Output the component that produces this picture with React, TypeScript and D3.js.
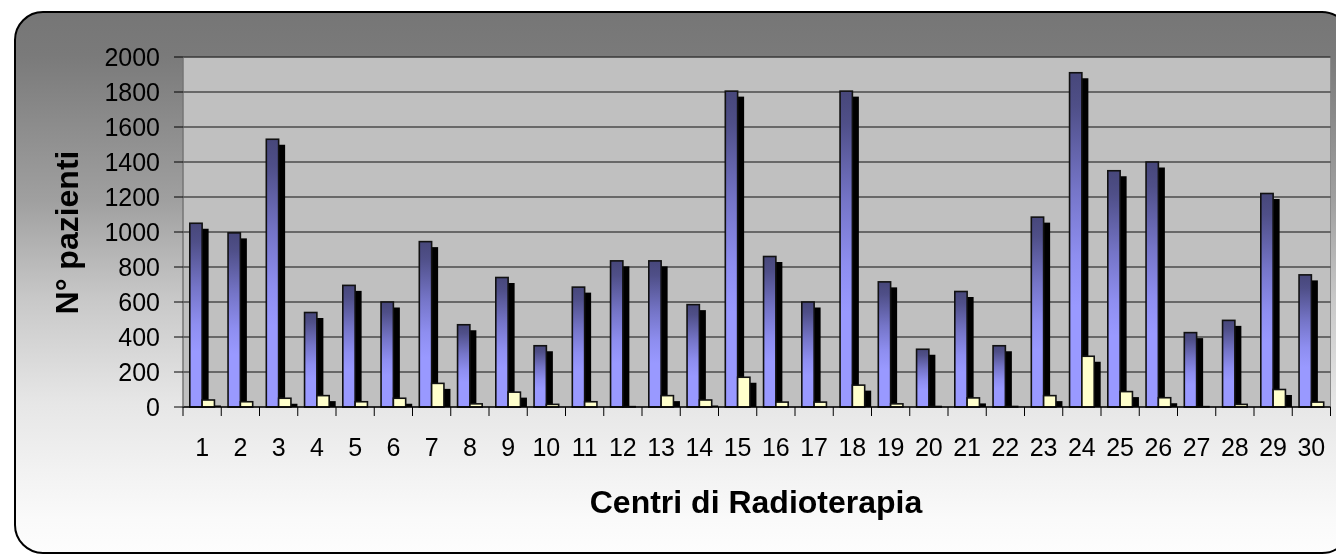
import React from "react";
import * as d3 from "d3";

const categories: string[] = Array.from({ length: 30 }, (_, i) => String(i + 1));
const totalPatients: number[] = [1050, 995, 1530, 540, 695, 600, 945, 470, 740, 350, 685, 835, 835, 585, 1805, 860, 600, 1805, 715, 330, 660, 350, 1085, 1910, 1350, 1400, 425, 495, 1220, 755];
const subsetPatients: number[] = [40, 30, 50, 65, 30, 50, 135, 18, 85, 15, 30, 2, 65, 40, 170, 28, 28, 125, 18, 3, 52, 3, 65, 290, 88, 53, 2, 15, 100, 28];
const yTicks: number[] = [0, 200, 400, 600, 800, 1000, 1200, 1400, 1600, 1800, 2000];
const xTitle = "Centri di Radioterapia";
const yTitle = "N° pazienti";

const W = 1336;
const H = 554;
const plot = { left: 183, right: 1330.5, top: 57, bottom: 407 };
const FONT = "Arial, 'Liberation Sans', Helvetica, sans-serif";

export default function App() {
  const x0 = d3.scaleBand<string>().domain(categories).range([plot.left, plot.right]).padding(0);
  const bw = x0.bandwidth();
  const pairW = bw * 0.644;
  const x1 = d3.scaleBand<string>().domain(["a", "b"]).range([0, pairW]).padding(0);
  const barW = x1.bandwidth();
  const y = d3.scaleLinear().domain([0, 2000]).range([plot.bottom, plot.top]);
  const sdx = 6.5;
  const sdy = 5.5;

  const bars = categories.map((c, i) => {
    const start = (x0(c) as number) + (bw - pairW) / 2;
    return {
      c,
      xa: start + (x1("a") as number),
      xb: start + (x1("b") as number),
      ya: y(totalPatients[i]),
      yb: y(subsetPatients[i]),
    };
  });

  return (
    <svg
      width={W}
      height={H}
      style={{ position: "fixed", left: 0, top: 0, display: "block" }}
      xmlns="http://www.w3.org/2000/svg"
    >
      <defs>
        <linearGradient id="bg" x1="0" y1="0" x2="0" y2="1">
          <stop offset="0" stopColor="#767676" />
          <stop offset="0.08" stopColor="#7a7a7a" />
          <stop offset="0.35" stopColor="#a0a0a0" />
          <stop offset="0.53" stopColor="#c8c8c8" />
          <stop offset="0.72" stopColor="#e6e6e6" />
          <stop offset="0.86" stopColor="#f3f3f3" />
          <stop offset="0.94" stopColor="#fafafa" />
          <stop offset="1" stopColor="#fdfdfd" />
        </linearGradient>
        <linearGradient id="blue" x1="0" y1="0" x2="0" y2="1">
          <stop offset="0" stopColor="#47477a" />
          <stop offset="0.1" stopColor="#4f4f88" />
          <stop offset="0.35" stopColor="#7575c8" />
          <stop offset="0.55" stopColor="#8e8ef0" />
          <stop offset="0.7" stopColor="#9999ff" />
          <stop offset="1" stopColor="#9999ff" />
        </linearGradient>
        <clipPath id="plotClip">
          <rect x={plot.left} y={plot.top} width={plot.right - plot.left} height={plot.bottom - plot.top} />
        </clipPath>
      </defs>

      <rect x={15} y={12} width={1335} height={541} rx={28} ry={28} fill="url(#bg)" stroke="#000" strokeWidth={2} />

      <rect
        x={plot.left}
        y={plot.top}
        width={plot.right - plot.left}
        height={plot.bottom - plot.top}
        fill="#c0c0c0"
        stroke="#8a8a8a"
        strokeWidth={1}
      />

      {yTicks.filter((t) => t > 0).map((t) => (
        <line key={"g" + t} x1={plot.left} x2={plot.right} y1={y(t)} y2={y(t)} stroke="#111" strokeWidth={1} />
      ))}

      <g clipPath="url(#plotClip)">
        {bars.map((b) => (
          <g key={"s" + b.c}>
            <rect x={b.xa + sdx} y={b.ya + sdy} width={barW} height={Math.max(0, plot.bottom - b.ya)} fill="#000" />
            <rect x={b.xb + sdx} y={b.yb + sdy} width={barW} height={Math.max(0, plot.bottom - b.yb)} fill="#000" />
          </g>
        ))}
      </g>

      {bars.map((b) => (
        <g key={"b" + b.c}>
          <rect x={b.xa} y={b.ya} width={barW} height={plot.bottom - b.ya} fill="url(#blue)" stroke="#111" strokeWidth={1.6} />
          <rect x={b.xb} y={b.yb} width={barW} height={plot.bottom - b.yb} fill="#ffffcc" stroke="#111" strokeWidth={1.6} />
        </g>
      ))}

      <line x1={plot.left} x2={plot.right} y1={plot.bottom} y2={plot.bottom} stroke="#000" strokeWidth={1.5} />
      <line x1={plot.left} x2={plot.left} y1={plot.top} y2={plot.bottom} stroke="#6a6a6a" strokeWidth={1} />

      {yTicks.map((t) => (
        <g key={"yt" + t}>
          <line x1={plot.left - 9} x2={plot.left} y1={y(t)} y2={y(t)} stroke="#000" strokeWidth={1} />
          <text
            x={160}
            y={y(t)}
            dy="0.36em"
            textAnchor="end"
            fontFamily={FONT}
            fontSize={25}
            fill="#000"
          >
            {t}
          </text>
        </g>
      ))}

      {categories.map((c) => (
        <line
          key={"xt" + c}
          x1={x0(c) as number}
          x2={x0(c) as number}
          y1={plot.bottom}
          y2={plot.bottom + 9}
          stroke="#000"
          strokeWidth={1}
        />
      ))}
      <line x1={plot.right} x2={plot.right} y1={plot.bottom} y2={plot.bottom + 9} stroke="#000" strokeWidth={1} />

      {categories.map((c) => (
        <text
          key={"xl" + c}
          x={(x0(c) as number) + bw / 2}
          y={456}
          textAnchor="middle"
          fontFamily={FONT}
          fontSize={25}
          fill="#000"
        >
          {c}
        </text>
      ))}

      <text
        x={756}
        y={513}
        textAnchor="middle"
        fontFamily={FONT}
        fontSize={32}
        fontWeight="bold"
        fill="#000"
      >
        {xTitle}
      </text>

      <text
        transform={`translate(77.5, 232.5) rotate(-90)`}
        textAnchor="middle"
        fontFamily={FONT}
        fontSize={32}
        fontWeight="bold"
        fill="#000"
      >
        {yTitle}
      </text>
    </svg>
  );
}
